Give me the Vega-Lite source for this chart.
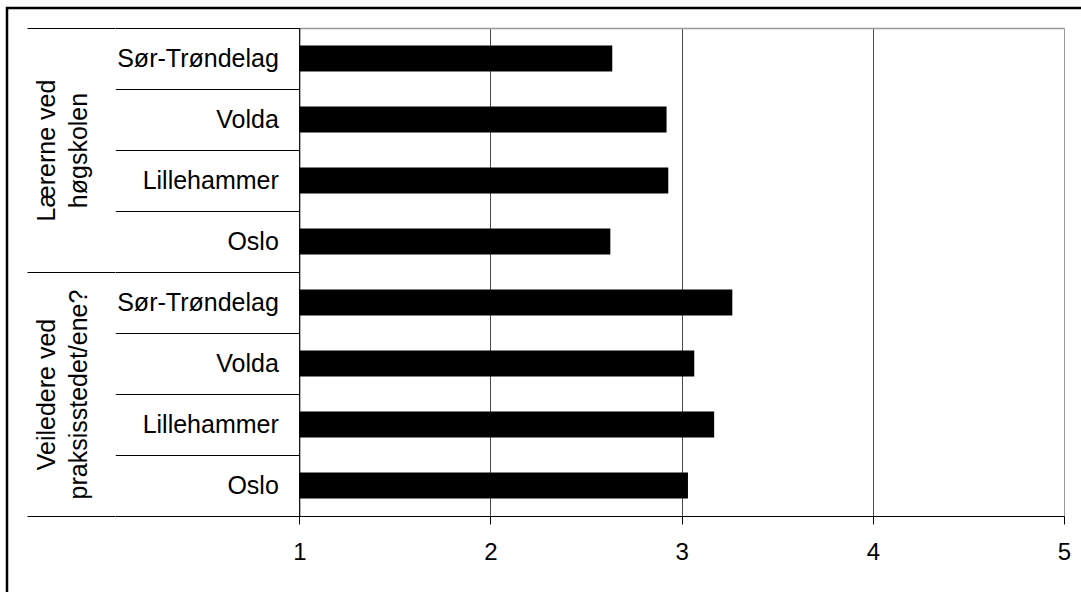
{
  "$schema": "https://vega.github.io/schema/vega-lite/v6.json",
  "autosize": {"type": "none"},
  "padding": {"left": 7, "top": 8, "right": 0, "bottom": 0},
  "width": 1074,
  "height": 584,
  "background": "white",
  "config": {
    "view": {"stroke": "black", "strokeWidth": 2.5, "strokeDash": [1074, 1658, 584]},
    "font": "Liberation Sans"
  },
  "data": {
    "values": [
      {"gruppe": "Lærerne ved høgskolen", "sted": "Sør-Trøndelag", "verdi": 2.637},
      {"gruppe": "Lærerne ved høgskolen", "sted": "Volda", "verdi": 2.921},
      {"gruppe": "Lærerne ved høgskolen", "sted": "Lillehammer", "verdi": 2.93},
      {"gruppe": "Lærerne ved høgskolen", "sted": "Oslo", "verdi": 2.627},
      {"gruppe": "Veiledere ved praksisstedet/ene?", "sted": "Sør-Trøndelag", "verdi": 3.265},
      {"gruppe": "Veiledere ved praksisstedet/ene?", "sted": "Volda", "verdi": 3.066},
      {"gruppe": "Veiledere ved praksisstedet/ene?", "sted": "Lillehammer", "verdi": 3.17},
      {"gruppe": "Veiledere ved praksisstedet/ene?", "sted": "Oslo", "verdi": 3.033}
    ]
  },
  "transform": [{"calculate": "datum.gruppe + '|' + datum.sted", "as": "nokkel"}],
  "layer": [
    {
      "mark": {"type": "point", "opacity": 0, "size": 0},
      "encoding": {
        "y": {
          "field": "gruppe",
          "type": "nominal",
          "scale": {
            "domain": ["Lærerne ved høgskolen", "Veiledere ved praksisstedet/ene?"],
            "range": [20, 508],
            "paddingInner": 0,
            "paddingOuter": 0
          },
          "axis": {
            "orient": "left",
            "offset": -108,
            "title": null,
            "domain": false,
            "ticks": true,
            "tickBand": "extent",
            "tickSize": 88,
            "tickColor": "black",
            "tickWidth": 1,
            "grid": false,
            "labelExpr": "split(replace(datum.label, ' ved ', ' ved|'), '|')",
            "labelAngle": 270,
            "labelAlign": "center",
            "labelBaseline": "middle",
            "labelLineHeight": 32,
            "labelFont": "Liberation Sans",
            "labelFontSize": 25,
            "labelColor": "black",
            "labelPadding": -19,
            "labelLimit": 0,
            "labelOverlap": false,
            "labelBound": false
          }
        },
        "x": {
          "field": "verdi",
          "type": "quantitative",
          "scale": {"domain": [1, 5], "range": [292.3, 1057], "nice": false, "zero": false},
          "axis": {
            "orient": "top",
            "offset": -20,
            "title": null,
            "values": [1, 2, 3, 4, 5],
            "grid": true,
            "gridColor": {"condition": {"test": "datum.value == 5", "value": "#999999"}, "value": "#4a4a4a"},
            "gridWidth": 1,
            "domain": true,
            "domainColor": "#999999",
            "domainWidth": 1.5,
            "ticks": false,
            "labels": false
          }
        }
      }
    },
    {
      "mark": {"type": "bar", "color": "black", "height": {"band": 0.43}},
      "encoding": {
        "y": {
          "field": "nokkel",
          "type": "nominal",
          "scale": {
            "domain": [
              "Lærerne ved høgskolen|Sør-Trøndelag",
              "Lærerne ved høgskolen|Volda",
              "Lærerne ved høgskolen|Lillehammer",
              "Lærerne ved høgskolen|Oslo",
              "Veiledere ved praksisstedet/ene?|Sør-Trøndelag",
              "Veiledere ved praksisstedet/ene?|Volda",
              "Veiledere ved praksisstedet/ene?|Lillehammer",
              "Veiledere ved praksisstedet/ene?|Oslo"
            ],
            "range": [20, 508],
            "paddingInner": 0,
            "paddingOuter": 0
          },
          "axis": {
            "orient": "left",
            "offset": -292.3,
            "title": null,
            "grid": false,
            "domain": true,
            "domainColor": "black",
            "domainWidth": 1,
            "ticks": true,
            "tickBand": "extent",
            "tickSize": 184,
            "tickColor": "black",
            "tickWidth": 1,
            "labelExpr": "split(datum.label, '|')[1]",
            "labelFont": "Liberation Sans",
            "labelFontSize": 25,
            "labelColor": "black",
            "labelPadding": -163,
            "labelLimit": 0,
            "labelOverlap": false,
            "labelBound": false
          }
        },
        "x": {
          "field": "verdi",
          "type": "quantitative",
          "axis": {
            "orient": "bottom",
            "offset": -76,
            "title": null,
            "values": [1, 2, 3, 4, 5],
            "grid": false,
            "domain": true,
            "domainColor": "black",
            "domainWidth": 1,
            "tickSize": 8,
            "tickColor": "black",
            "tickWidth": 1,
            "labelFont": "Liberation Sans",
            "labelFontSize": 24,
            "labelColor": "black",
            "labelPadding": 16,
            "labelFlush": false,
            "labelOverlap": false
          }
        },
        "x2": {"datum": 1}
      }
    }
  ],
  "resolve": {"scale": {"y": "independent"}, "axis": {"y": "independent", "x": "independent"}}
}
